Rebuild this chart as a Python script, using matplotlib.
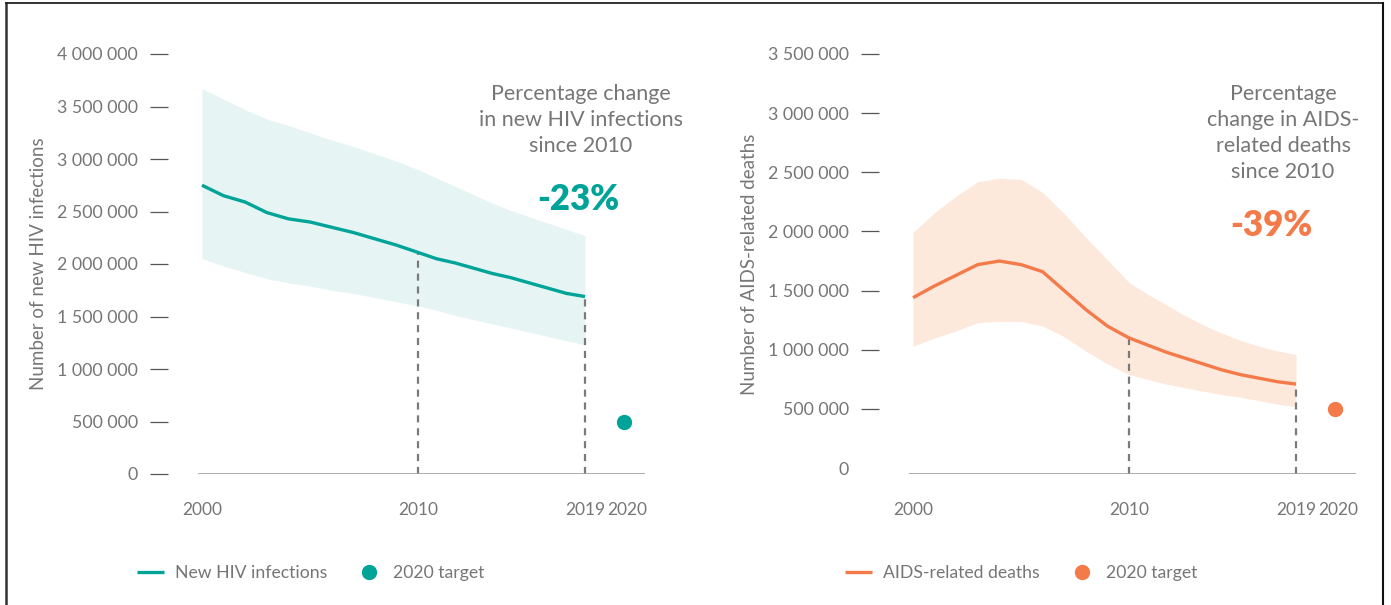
import numpy as np
import matplotlib.pyplot as plt
import matplotlib.transforms as mtransforms
from matplotlib.lines import Line2D

years = np.arange(2000, 2020)

hiv_new = np.array([2.75, 2.65, 2.59, 2.49, 2.43, 2.40, 2.35, 2.30, 2.24, 2.18,
                    2.11, 2.05, 2.01, 1.96, 1.91, 1.87, 1.82, 1.77, 1.72, 1.69]) * 1e6
hiv_upper = np.array([3.67, 3.57, 3.47, 3.38, 3.32, 3.25, 3.18, 3.12, 3.05, 2.98,
                      2.90, 2.82, 2.74, 2.66, 2.58, 2.51, 2.45, 2.39, 2.33, 2.27]) * 1e6
hiv_lower = np.array([2.05, 1.98, 1.92, 1.86, 1.82, 1.79, 1.75, 1.72, 1.68, 1.64,
                      1.60, 1.56, 1.51, 1.47, 1.43, 1.39, 1.35, 1.31, 1.27, 1.23]) * 1e6

deaths = np.array([1.44, 1.54, 1.63, 1.72, 1.75, 1.72, 1.66, 1.50, 1.34, 1.20,
                   1.10, 1.04, 0.98, 0.93, 0.88, 0.83, 0.79, 0.76, 0.73, 0.71]) * 1e6
deaths_upper = np.array([1.99, 2.16, 2.30, 2.42, 2.45, 2.44, 2.33, 2.15, 1.95, 1.76,
                         1.57, 1.47, 1.38, 1.29, 1.21, 1.14, 1.08, 1.03, 0.99, 0.96]) * 1e6
deaths_lower = np.array([1.03, 1.10, 1.16, 1.23, 1.24, 1.24, 1.20, 1.11, 0.99, 0.88,
                         0.79, 0.75, 0.71, 0.68, 0.65, 0.62, 0.60, 0.57, 0.54, 0.52]) * 1e6

target_year = 2020
hiv_target = 500000
deaths_target = 500000

xticks = [2000, 2010, 2019, 2020]
left_yticks = np.arange(0, 4000001, 500000)
right_yticks = np.arange(0, 3500001, 500000)

TEAL = '#00a398'
TEAL_BAND = '#e6f5f4'
ORANGE = '#f47a4a'
ORANGE_BAND = '#fde9dc'
GREY = '#767676'

plt.rcParams['font.family'] = ['Lato', 'DejaVu Sans']

# the source spaces the years unevenly; reproduce with a piecewise scale
yk = np.array([1990, 2000, 2010, 2019, 2020, 2030])
pk = np.array([-216, 0, 216, 383, 422, 812])
def fwd(x):
    return np.interp(x, yk, pk)
def inv(p):
    return np.interp(p, pk, yk)

def fmt(v):
    return f'{int(v):,}'.replace(',', ' ')

W, H = 1391, 605
fig = plt.figure(figsize=(W / 100, H / 100), dpi=100)

def make_axes(x2000_px, ylim, yticks, line, lo, hi, target, color, band, ylabel,
              note, pct, note_x, pct_x, pct_y, label, legend_x, zero_tick):
    x0 = inv(-4.5)
    x1 = inv(443)
    span = fwd(x1) - fwd(x0)
    ax = fig.add_axes([(x2000_px - 4.5) / W, 131 / H, span / W, 420 / H])
    ax.set_xscale('function', functions=(fwd, inv))
    ax.set_xlim(x0, x1)
    ax.set_ylim(*ylim)

    ax.fill_between(years, lo, hi, color=band, lw=0)
    ax.plot(years, line, color=color, lw=2.4, label=label, solid_capstyle='butt')
    ax.plot([target_year], [target], 'o', color=color, ms=10, label='2020 target')
    for yr in (2010, 2019):
        ax.vlines(yr, ylim[0], line[years == yr][0], colors='#7a7a7a',
                  linestyles=(0, (3.2, 2.6)), lw=1.6, zorder=1)
    ax.axhline(ylim[0], color='#a0a0a0', lw=1.2)

    for s in ['top', 'right', 'bottom', 'left']:
        ax.spines[s].set_visible(False)
    ax.spines['left'].set_position(('outward', 21))
    ax.set_yticks(yticks)
    ax.set_yticklabels([fmt(v) for v in yticks])
    ax.tick_params(axis='y', length=13, width=0.9, color='#555555', pad=9,
                   labelsize=12.8, labelcolor=GREY)
    if not zero_tick:
        ax.yaxis.get_major_ticks()[0].tick1line.set_visible(False)
    ax.set_xticks(xticks)
    ax.set_xticklabels([str(x) for x in xticks])
    ax.tick_params(axis='x', length=0, pad=20, labelsize=12.5, labelcolor=GREY)
    ax.minorticks_off()
    # the 2020 label sits a little to the right in the source
    xl = ax.get_xticklabels()
    xl[3].set_transform(xl[3].get_transform() +
                        mtransforms.ScaledTranslation(3 / 100, 0, fig.dpi_scale_trans))
    ax.set_ylabel(ylabel, fontsize=13.5, color=GREY, labelpad=7)

    fig.text(note_x / W, 1 - 84 / H, note, ha='center', va='top', fontsize=15.5,
             color=GREY, linespacing=1.37)
    fig.text(pct_x / W, 1 - pct_y / H, pct, ha='center', va='center',
             fontsize=25, fontweight='heavy', color=color)

    ax.legend(loc='center left', bbox_to_anchor=(legend_x / W, 1 - 573 / H),
              bbox_transform=fig.transFigure, ncol=2, frameon=False,
              fontsize=12.7, labelcolor=GREY, handlelength=1.55,
              handletextpad=0.6, columnspacing=1.6, borderpad=0,
              borderaxespad=0)
    return ax

ax1 = make_axes(202, (0, 4000000), left_yticks, hiv_new, hiv_lower, hiv_upper,
                hiv_target, TEAL, TEAL_BAND, 'Number of new HIV infections',
                'Percentage change\nin new HIV infections\nsince 2010', '-23%',
                581, 578, 199, 'New HIV infections', 137, True)
ax2 = make_axes(913, (-50000, 3500000), right_yticks, deaths, deaths_lower,
                deaths_upper, deaths_target, ORANGE, ORANGE_BAND,
                'Number of AIDS-related deaths',
                'Percentage\nchange in AIDS-\nrelated deaths\nsince 2010', '-39%',
                1283, 1271, 225, 'AIDS-related deaths', 845, False)

# outer frame
fig.add_artist(Line2D([6 / W, 6 / W], [0, 1 - 3 / H], color='#333333', lw=1.8))
fig.add_artist(Line2D([6 / W, 1383 / W], [1 - 3 / H, 1 - 3 / H], color='#222222', lw=1.3))
fig.add_artist(Line2D([1383 / W, 1383 / W], [0, 1 - 3 / H], color='#111111', lw=1.5))

fig.savefig('out.png', dpi=100)
